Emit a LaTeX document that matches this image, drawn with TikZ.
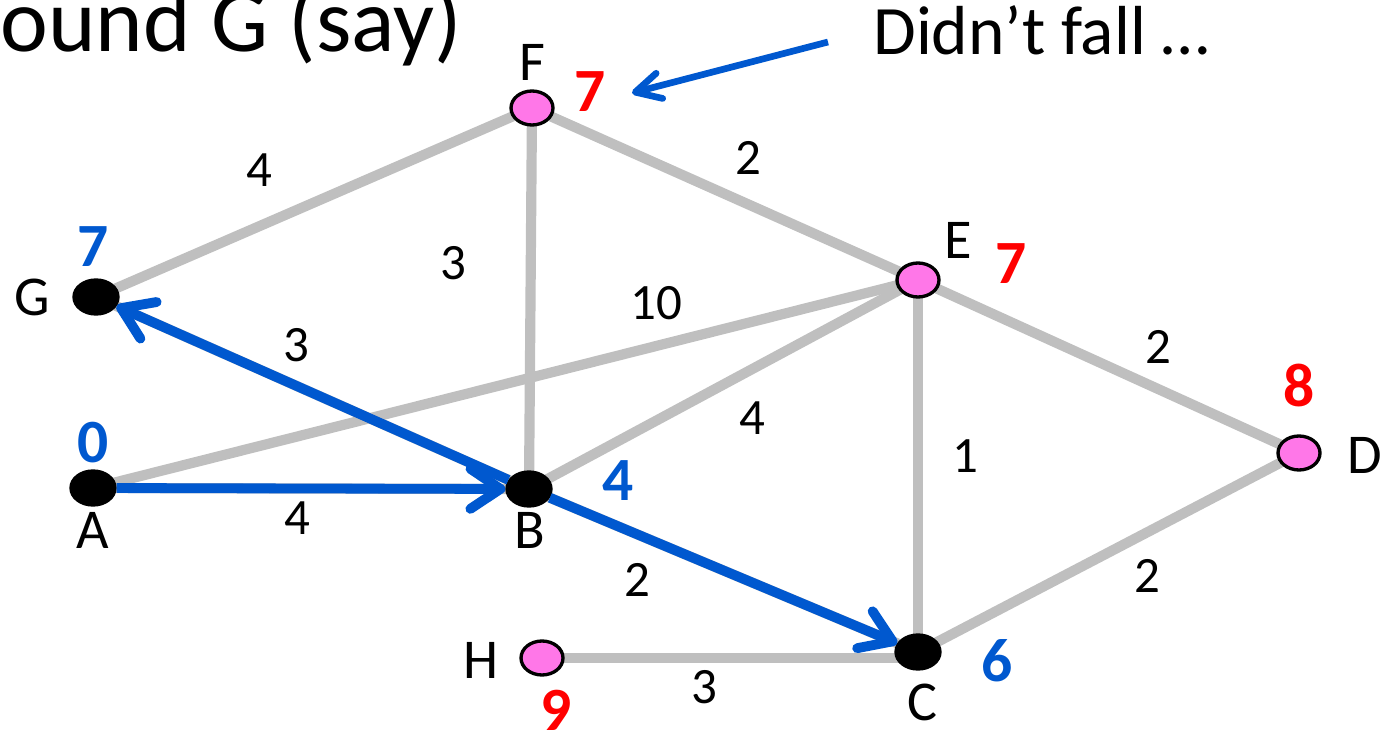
\documentclass[tikz,border=0pt]{standalone}
\usepackage{fontspec}
\setmainfont{Carlito}
\usetikzlibrary{arrows.meta, shapes.geometric, backgrounds}

\definecolor{edgegray}{HTML}{BFBFBF}
\definecolor{treeblue}{HTML}{0058CF}
\definecolor{openpink}{HTML}{FF77E8}
\definecolor{distred}{HTML}{FF0000}

\begin{document}
\begin{tikzpicture}[x=0.02cm, y=-0.02cm,
    vtx/.style={ellipse, draw=black, line width=1.9pt, fill=openpink, minimum width=0.84cm, minimum height=0.68cm, inner sep=0pt},
    done/.style={vtx, fill=black, minimum width=0.88cm},
    edge/.style={draw=edgegray, line width=5.8pt},
    tree/.style={-{Straight Barb[length=0.6cm, width=0.8cm, round]}, draw=treeblue, line width=5.6pt},
    note arrow/.style={-{Straight Barb[length=0.5cm, width=0.52cm, round]}, draw=treeblue, line width=3.8pt},
    lbl/.style={inner sep=0pt, font=\fontsize{32}{36}\selectfont},
    wt/.style={inner sep=0pt, font=\fontsize{29}{33}\selectfont},
    seen/.style={inner sep=0pt, font=\fontsize{35}{38}\selectfont\bfseries, text=treeblue},
    tent/.style={inner sep=0pt, font=\fontsize{35}{38}\selectfont\bfseries, text=distred},
    remark/.style={inner sep=0pt, font=\fontsize{39.5}{44}\selectfont},
    heading/.style={inner sep=0pt, font=\fontsize{51.5}{56}\selectfont}
  ]
    \useasboundingbox (0,0) rectangle (1387,733);

    % title and remark
    \node[heading, anchor=base east] (title) at (462,52) {ound G (say)};
    \node[remark, anchor=base west] (note) at (873,55) {Didn’t fall …};
    \coordinate (tail) at (828,42);
    \coordinate (tip) at (632,93);

    % vertices
    \node[done] (A) at (93,488) {};
    \node[done] (B) at (529,489) {};
    \node[done] (C) at (918,652) {};
    \node[vtx]  (D) at (1299,453) {};
    \node[vtx]  (E) at (918,280) {};
    \node[vtx]  (F) at (532,108) {};
    \node[done] (G) at (96,297) {};
    \node[vtx]  (H) at (542,658) {};

    % vertex names
    \node[lbl] (lA) at (93,530) {A};
    \node[lbl] (lB) at (530,530) {B};
    \node[lbl] (lC) at (922,702) {C};
    \node[lbl] (lD) at (1365,455) {D};
    \node[lbl] (lE) at (958,240) {E};
    \node[lbl] (lF) at (532,62) {F};
    \node[lbl] (lG) at (32,297) {G};
    \node[lbl] (lH) at (481,660) {H};

    % distances
    \node[seen] (dA) at (93,443) {0};
    \node[seen] (dB) at (618,481) {4};
    \node[seen] (dC) at (997,661) {6};
    \node[seen] (dG) at (93,247) {7};
    \node[tent] (dD) at (1299,385) {8};
    \node[tent] (dE) at (1011,264) {7};
    \node[tent] (dF) at (590,92) {7};
    \node[tent] (dH) at (556,710) {9};

    % weights
    \node[wt] (wGF) at (259,170) {4};
    \node[wt] (wFB) at (453,263) {3};
    \node[wt] (wFE) at (748,158) {2};
    \node[wt] (wAE) at (656,303) {10};
    \node[wt] (wGB) at (296,345) {3};
    \node[wt] (wBE) at (752,418) {4};
    \node[wt] (wED) at (1158,347) {2};
    \node[wt] (wEC) at (965,456) {1};
    \node[wt] (wAB) at (297,518) {4};
    \node[wt] (wBC) at (637,580) {2};
    \node[wt] (wDC) at (1147,576) {2};
    \node[wt] (wHC) at (704,687) {3};

    \begin{pgfonlayer}{background}
      \draw[edge] (G.center) -- (F.center);
      \draw[edge] (F.center) -- (B.center);
      \draw[edge] (F.center) -- (E.center);
      \draw[edge] (G.center) -- (B.center);
      \draw[edge] (A.center) -- (E.center);
      \draw[edge] (A.center) -- (B.center);
      \draw[edge] (B.center) -- (E.center);
      \draw[edge] (B.center) -- (C.center);
      \draw[edge] (E.center) -- (C.center);
      \draw[edge] (E.center) -- (D.center);
      \draw[edge] (D.center) -- (C.center);
      \draw[edge] (H.center) -- (H.center -| C.center);
    \end{pgfonlayer}

    \draw[tree] (A) -- (B);
    \draw[tree] (B) -- (G);
    \draw[tree] (B) -- (C);
    \draw[note arrow] (tail) -- (tip);
\end{tikzpicture}
\end{document}
